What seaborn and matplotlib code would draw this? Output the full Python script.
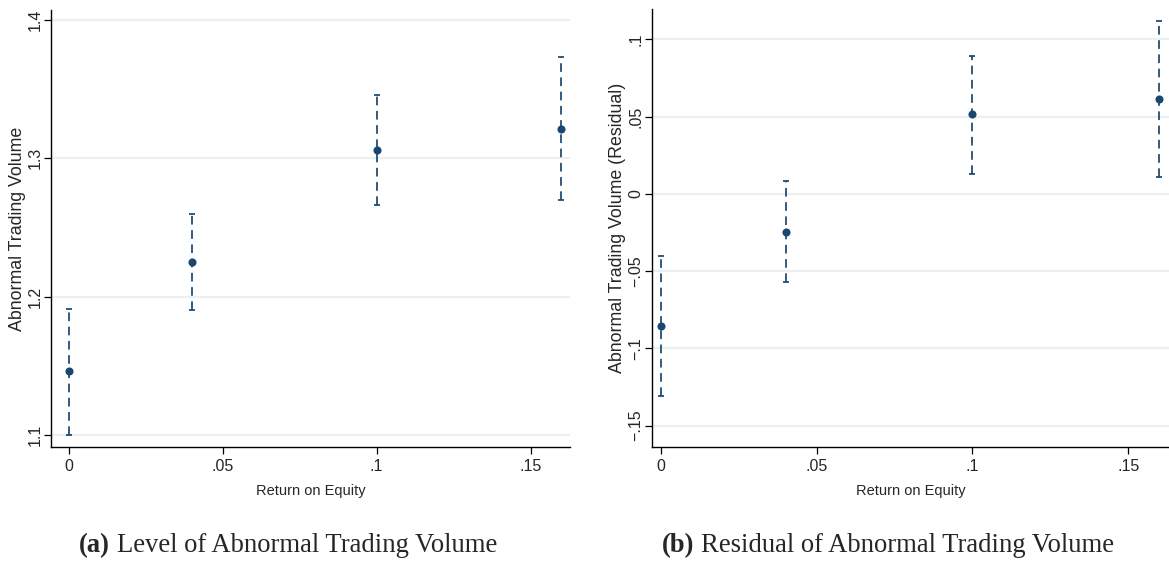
import matplotlib
matplotlib.use("Agg")
import matplotlib.pyplot as plt
import seaborn as sns
import pandas as pd

# ---- data ----
roe = [0.0, 0.04, 0.10, 0.16]
level_mean = [1.146, 1.225, 1.306, 1.321]
level_lo = [1.100, 1.190, 1.266, 1.270]
level_hi = [1.191, 1.260, 1.346, 1.373]
resid_mean = [-0.0855, -0.0244, 0.0515, 0.0616]
resid_lo = [-0.1307, -0.0571, 0.0130, 0.0112]
resid_hi = [-0.0404, 0.0084, 0.0893, 0.1120]

xticks = [0, 0.05, 0.10, 0.15]
xticklabels = ["0", ".05", ".1", ".15"]
yticks_a = [1.1, 1.2, 1.3, 1.4]
yticklabels_a = ["1.1", "1.2", "1.3", "1.4"]
yticks_b = [-0.15, -0.10, -0.05, 0.0, 0.05, 0.10]
yticklabels_b = ["\u2212.15", "\u2212.1", "\u2212.05", "0", ".05", ".1"]

ylabel_a = "Abnormal Trading Volume"
ylabel_b = "Abnormal Trading Volume (Residual)"
xlabel = "Return on Equity"
caption_a = ("(a)", "Level of Abnormal Trading Volume")
caption_b = ("(b)", "Residual of Abnormal Trading Volume")

sns.set_theme(style="white")
plt.rcParams["font.family"] = ["Liberation Sans", "DejaVu Sans"]

NAVY = "#1a476f"
GRID = "#e9f0f2"

fig = plt.figure(figsize=(11.69, 5.69), dpi=100)
ax_a = fig.add_axes([51 / 1169, 1 - 447 / 569, (570 - 51) / 1169, (447 - 10) / 569])
ax_b = fig.add_axes([651.7 / 1169, 1 - 447 / 569, (1169 - 651.7) / 1169, (447 - 9) / 569])


def draw(ax, mean, lo, hi, yticks, yticklabels, ylim, xlim, ylabel):
    df = pd.DataFrame({"x": roe, "y": mean, "lo": lo, "hi": hi})
    for yt in yticks:
        ax.axhline(yt, color=GRID, lw=1.5, zorder=0)
    eb = ax.errorbar(df["x"], df["y"],
                     yerr=[df["y"] - df["lo"], df["hi"] - df["y"]],
                     fmt="none", ecolor=NAVY, elinewidth=1.25, capsize=2.4,
                     capthick=1.25, zorder=2)
    for lc in eb[2]:
        lc.set_linestyle((0, (5.0, 3.2)))
    sns.scatterplot(data=df, x="x", y="y", ax=ax, color=NAVY, s=34,
                    edgecolor=NAVY, linewidth=0, zorder=3)
    ax.set_xlim(*xlim)
    ax.set_ylim(*ylim)
    ax.set_xticks(xticks)
    ax.set_xticklabels(xticklabels, fontsize=11.5)
    ax.set_yticks(yticks)
    ax.set_yticklabels(yticklabels, fontsize=11.5, rotation=90, va="center")
    ax.set_xlabel(xlabel, fontsize=10.5, labelpad=7)
    ax.set_ylabel(ylabel, fontsize=12.8, labelpad=1.5)
    for s in ["top", "right"]:
        ax.spines[s].set_visible(False)
    for s in ["left", "bottom"]:
        ax.spines[s].set_color("black")
        ax.spines[s].set_linewidth(1.0)
    ax.tick_params(axis="both", which="major", direction="out", length=5,
                   width=0.9, color="black", bottom=True, left=True)
    ax.tick_params(axis="x", pad=3.5)
    ax.tick_params(axis="y", pad=1.0)
    ax.grid(False)


draw(ax_a, level_mean, level_lo, level_hi, yticks_a, yticklabels_a,
     (1.0913, 1.4072), (-0.0057, 0.1628), ylabel_a)
draw(ax_b, resid_mean, resid_lo, resid_hi, yticks_b, yticklabels_b,
     (-0.1638, 0.1197), (-0.003, 0.1631), ylabel_b)

serif = ["Liberation Serif", "DejaVu Serif"]
CAP_FS = 19.2
CAP_BASE = 552


def caption(xc, parts):
    lab, body = parts
    fig.canvas.draw()
    r = fig.canvas.get_renderer()
    tmp1 = fig.text(0, 0, lab + " ", fontsize=CAP_FS, family=serif, weight="bold")
    tmp2 = fig.text(0, 0, body, fontsize=CAP_FS, family=serif)
    w1 = tmp1.get_window_extent(r).width
    w2 = tmp2.get_window_extent(r).width
    tmp1.remove(); tmp2.remove()
    x0 = xc - (w1 + w2) / 2
    fig.text(x0 / 1169, 1 - CAP_BASE / 569, lab, fontsize=CAP_FS, family=serif,
             weight="bold", ha="left", va="baseline")
    fig.text((x0 + w1) / 1169, 1 - CAP_BASE / 569, body, fontsize=CAP_FS,
             family=serif, ha="left", va="baseline")


caption(288, caption_a)
caption(888, caption_b)

fig.savefig("out.png", dpi=100)
